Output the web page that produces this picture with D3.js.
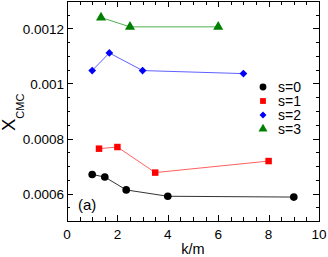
<!DOCTYPE html>
<html lang="en">
<head>
<meta charset="UTF-8">
<title>X_CMC vs k/m</title>
<script src="https://d3js.org/d3.v7.min.js"></script>
<style>
  body { margin: 0; background: #fff; }
  text { font-family: "Liberation Sans", Arial, sans-serif; fill: #000; }
</style>
</head>
<body>
<svg width="328" height="257"></svg>
<script>
// data
var s0x = [1, 1.5, 2.35, 4, 9];
var s0y = [0.000669, 0.00066, 0.000613, 0.00059, 0.000587];
var s1x = [1.27, 2, 3.5, 8];
var s1y = [0.000763, 0.000769, 0.000676, 0.000718];
var s2x = [1, 1.68, 3, 7];
var s2y = [0.001047, 0.001111, 0.001047, 0.001036];
var s3x = [1.35, 2.5, 6];
var s3y = [0.00124, 0.001206, 0.001206];
var seriesNames = ["s=0", "s=1", "s=2", "s=3"];
var xTicks = [0, 2, 4, 6, 8, 10];
var yTicks = [0.0006, 0.0008, 0.001, 0.0012];

var colors = ["#000000", "#ff0000", "#0000ff", "#008000"];
var lineColors = ["#333333", "#ff6060", "#6060ff", "#50b050"];

// wide diamond like the reference (square turned 45deg)
var wideDiamond = {
  draw: function(ctx, size) {
    var r = Math.sqrt(size / 2);
    ctx.moveTo(0, -r); ctx.lineTo(r, 0); ctx.lineTo(0, r); ctx.lineTo(-r, 0); ctx.closePath();
  }
};
var shapes = [d3.symbolCircle, d3.symbolSquare, wideDiamond, d3.symbolTriangle];
var sizes = [46, 42, 30, 44];

var series = [[s0x, s0y], [s1x, s1y], [s2x, s2y], [s3x, s3y]].map(function(p, i) {
  return { name: seriesNames[i], pts: p[0].map(function(x, j) { return [x, p[1][j]]; }) };
});

var svg = d3.select("svg");
var pl = 67, pr = 319, pt = 1, pb = 221;

var x = d3.scaleLinear().domain([0, 10]).range([pl, pr]);
var y = d3.scaleLinear().domain([0.0005, 0.0013]).range([pb, pt]);

// frame
svg.append("rect")
  .attr("x", pl + 0.5).attr("y", pt + 0.5)
  .attr("width", pr - pl).attr("height", pb - pt)
  .attr("fill", "none").attr("stroke", "#000").attr("stroke-width", 1);

// ticks pointing inward on all four sides
var xMinor = d3.range(0, 10.01, 0.5);
var yMinor = d3.range(0.0005, 0.001301, 0.00005);
function isMajorX(v) { return Math.abs(v / 2 - Math.round(v / 2)) < 1e-6; }
function isMajorY(v) { return Math.abs(v / 0.0002 - Math.round(v / 0.0002)) < 1e-6; }

var tg = svg.append("g").attr("stroke", "#000").attr("stroke-width", 1);
xMinor.forEach(function(v) {
  var len = isMajorX(v) ? 6 : 4;
  var px = Math.round(x(v)) + 0.5;
  tg.append("line").attr("x1", px).attr("x2", px).attr("y1", pb).attr("y2", pb - len);
  tg.append("line").attr("x1", px).attr("x2", px).attr("y1", pt).attr("y2", pt + len);
});
yMinor.forEach(function(v) {
  var len = isMajorY(v) ? 6 : 3;
  var py = Math.round(y(v)) + 0.5;
  tg.append("line").attr("x1", pl).attr("x2", pl + len).attr("y1", py).attr("y2", py);
  tg.append("line").attr("x1", pr).attr("x2", pr - len).attr("y1", py).attr("y2", py);
});

// tick labels
svg.selectAll(".xl").data(xTicks).enter().append("text")
  .attr("x", function(d) { return x(d); })
  .attr("y", 238.5)
  .attr("text-anchor", "middle")
  .style("font-size", "13.5px")
  .text(function(d) { return d; });

svg.selectAll(".yl").data(yTicks).enter().append("text")
  .attr("x", pl - 3)
  .attr("y", function(d) { return y(d) + 5; })
  .attr("text-anchor", "end")
  .style("font-size", "13.5px")
  .text(function(d) { return d === 0.001 ? "0.001" : d.toFixed(4); });

// axis titles
svg.append("text")
  .attr("x", (pl + pr) / 2).attr("y", 253.5)
  .attr("text-anchor", "middle")
  .style("font-size", "14.5px")
  .text("k/m");

var yt = svg.append("text")
  .attr("transform", "translate(15,131) rotate(-90)")
  .style("font-size", "18.5px");
yt.append("tspan").text("X");
yt.append("tspan").attr("dy", 8.5).style("font-size", "11px").text("CMC");

// series lines and markers
var line = d3.line()
  .x(function(d) { return x(d[0]); })
  .y(function(d) { return y(d[1]); });

series.forEach(function(s, i) {
  svg.append("path")
    .datum(s.pts)
    .attr("d", line)
    .attr("fill", "none")
    .attr("stroke", lineColors[i])
    .attr("stroke-width", 1);
  svg.selectAll(".m" + i).data(s.pts).enter().append("path")
    .attr("transform", function(d) { return "translate(" + x(d[0]) + "," + y(d[1]) + ")"; })
    .attr("d", d3.symbol().type(shapes[i]).size(sizes[i]))
    .attr("fill", colors[i]);
});

// legend
var lg = svg.append("g").attr("transform", "translate(263,87)");
seriesNames.forEach(function(n, i) {
  lg.append("path")
    .attr("transform", "translate(0," + (i * 14) + ")")
    .attr("d", d3.symbol().type(shapes[i]).size(sizes[i] * 0.8))
    .attr("fill", colors[i]);
  lg.append("text")
    .attr("x", 15).attr("y", i * 14 + 5)
    .style("font-size", "14px")
    .text(n);
});

// panel label
svg.append("text")
  .attr("x", 78).attr("y", 210)
  .style("font-size", "15px")
  .text("(a)");
</script>
</body>
</html>
